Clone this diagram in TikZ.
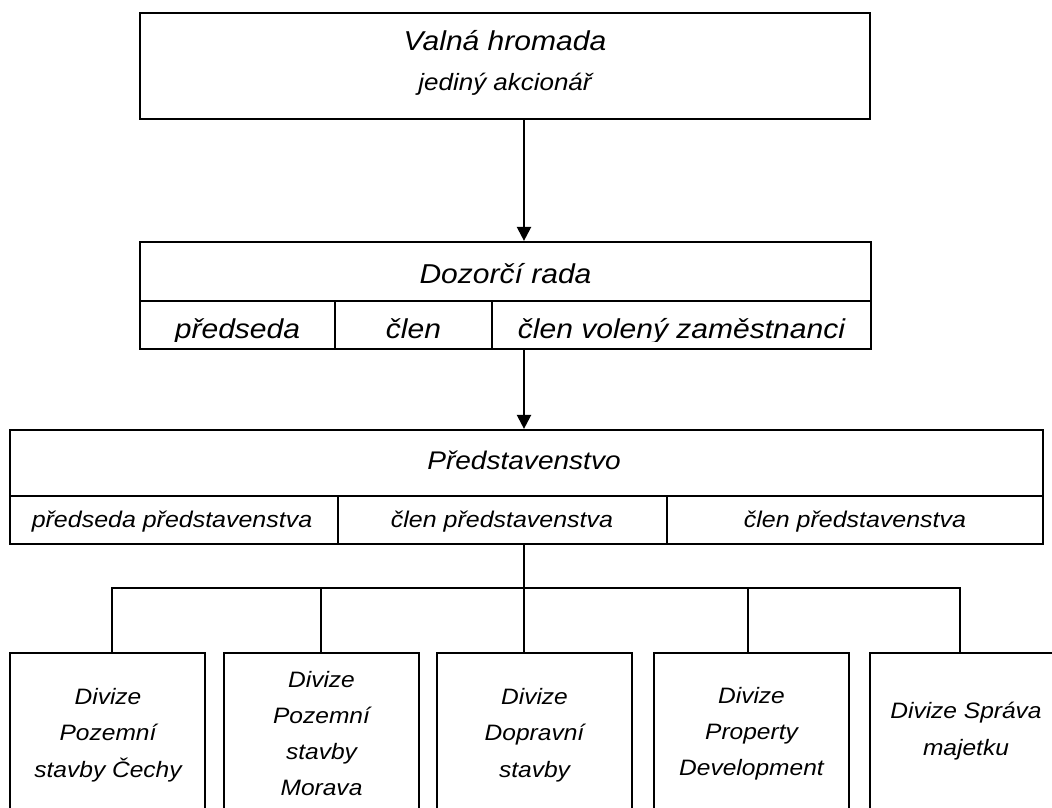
\documentclass[tikz,border=0pt]{standalone}
\usepackage{fontspec}
\setmainfont{Liberation Sans}[FakeStretch=1.1]
\usetikzlibrary{arrows.meta}

% italic text at a given size (in pt) with a given line distance
\newcommand\txtsize[2]{\fontsize{#1}{#2}\selectfont\itshape}

\tikzset{
  frame/.style={draw, rectangle, line width=2.2pt, inner sep=0pt},
  cellline/.style={line width=1.7pt},
  label/.style={inner sep=0pt, outer sep=0pt},
  arrowline/.style={line width=2.2pt, -{Triangle[length=14pt,width=14pt]}},
  branch/.style={line width=1.9pt},
}

\begin{document}
\begin{tikzpicture}[x=1pt,y=-1pt]
\useasboundingbox (0,0) rectangle (1052,807);
\clip (0,0) rectangle (1052,807);

% general meeting
\node[frame, minimum width=730, minimum height=106] (vh) at (505,66) {};
\node[label, anchor=base, font=\txtsize{27.3}{33}] (vh-title) at (505,50) {Valná hromada};
\node[label, anchor=base, font=\txtsize{23.6}{28}] (vh-sub) at (505,90) {jediný akcionář};

% supervisory board
\node[frame, minimum width=731, minimum height=107] (dr) at (505.5,295.5) {};
\draw[cellline] (140,301) -- (871,301);
\draw[cellline] (335,301) -- (335,349);
\draw[cellline] (492,301) -- (492,349);
\node[label, anchor=base, font=\txtsize{27.3}{33}] (dr-title) at (505.5,283) {Dozorčí rada};
\begin{scope}
  \clip (140,301) rectangle (871,341);
  \node[label, anchor=base, font=\txtsize{27.3}{33}] (dr-c1) at (237.5,338) {předseda};
  \node[label, anchor=base, font=\txtsize{27.3}{33}] (dr-c2) at (413.5,338) {člen};
  \node[label, anchor=base, font=\txtsize{27.3}{33}] (dr-c3) at (681.5,338) {člen volený zaměstnanci};
\end{scope}

% board of directors
\node[frame, minimum width=1033, minimum height=114] (pr) at (526.5,487) {};
\draw[cellline] (10,496) -- (1043,496);
\draw[cellline] (338,496) -- (338,544);
\draw[cellline] (667,496) -- (667,544);
\node[label, anchor=base, font=\txtsize{25.5}{31}] (pr-title) at (524,469) {Představenstvo};
\node[label, anchor=base, font=\txtsize{22.7}{28}] (pr-c1) at (172,527) {předseda představenstva};
\node[label, anchor=base, font=\txtsize{22.7}{28}] (pr-c2) at (502,527) {člen představenstva};
\node[label, anchor=base, font=\txtsize{22.7}{28}] (pr-c3) at (855,527) {člen představenstva};

% divisions (the anchor of each label is the baseline of its last line)
\node[frame, minimum width=195, minimum height=180] (d1) at (107.5,743) {};
\node[frame, minimum width=195, minimum height=180] (d2) at (321.5,743) {};
\node[frame, minimum width=195, minimum height=180] (d3) at (534.5,743) {};
\node[frame, minimum width=195, minimum height=180] (d4) at (751.5,743) {};
\node[frame, minimum width=195, minimum height=180] (d5) at (967.5,743) {};
\node[label, anchor=base, align=center, font=\txtsize{22.3}{36.5}] (d1-t) at (108,777) {Divize\\Pozemní\\stavby Čechy};
\node[label, anchor=base, align=center, font=\txtsize{22.3}{35.8}] (d2-t) at (321.5,795) {Divize\\Pozemní\\stavby\\Morava};
\node[label, anchor=base, align=center, font=\txtsize{22.3}{36.5}] (d3-t) at (534.5,777) {Divize\\Dopravní\\stavby};
\node[label, anchor=base, align=center, font=\txtsize{22.3}{36}] (d4-t) at (751.5,775) {Divize\\Property\\Development};
\node[label, anchor=base, align=center, font=\txtsize{22.3}{37}] (d5-t) at (966,755) {Divize Správa\\majetku};

% connectors
\draw[arrowline] ([xshift=19]vh.south) -- ([xshift=19]vh.south |- dr.north);
\draw[arrowline] ([xshift=18.5]dr.south) -- ([xshift=18.5]dr.south |- pr.north);

\coordinate (bus) at (524,588);
\draw[branch] (pr.south -| bus) -- (bus);
\draw[branch] (bus) -| ([xshift=4.5]d1.north);
\draw[branch] (bus) -| ([xshift=-0.5]d2.north);
\draw[branch] (bus) -- (bus |- d3.north);
\draw[branch] (bus) -| ([xshift=-3.5]d4.north);
\draw[branch] (bus) -| ([xshift=-7.5]d5.north);
\end{tikzpicture}
\end{document}
